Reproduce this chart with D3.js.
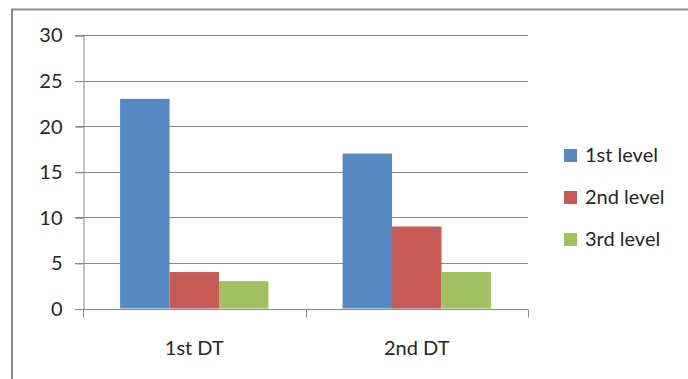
<!DOCTYPE html>
<html>
<head>
<meta charset="utf-8">
<script src="https://cdn.jsdelivr.net/npm/d3@7"></script>
<style>
  body { margin: 0; background: #fff; }
  text { font-family: Lato, "Open Sans", sans-serif; fill: #262626; }
</style>
</head>
<body>
<div id="chart"></div>
<script>
// data
var categories = ['1st DT', '2nd DT'];
var series = ['1st level', '2nd level', '3rd level'];
var level1 = [23, 17];
var level2 = [4, 9];
var level3 = [3, 4];
var yTicks = [0, 5, 10, 15, 20, 25, 30];

var colors = ['#5688C4', '#C65A57', '#A2BF62'];
var values = [level1, level2, level3];

var width = 688, height = 379;
var plot = {left: 83, right: 528, top: 35, bottom: 308.5};
var font_size_tick = 20;
var font_size_legend = 20;

var svg = d3.select('#chart')
    .append('svg')
        .attr('width', width)
        .attr('height', height);

// outer chart border
svg.append('path')
    .attr('d', 'M12,' + height + 'V9.5H' + width)
    .attr('fill', 'none')
    .attr('stroke', '#8a8a8a')
    .attr('stroke-width', 2);

// scales
var x0 = d3.scaleBand()
    .domain(categories)
    .range([plot.left, plot.right]);

var x1 = d3.scaleBand()
    .domain(series)
    .range([0, x0.bandwidth()])
    .paddingOuter(0.75);

var y = d3.scaleLinear()
    .domain([0, 30])
    .range([plot.bottom, plot.top]);

// gridlines
svg.append('g')
    .selectAll('line')
    .data(yTicks)
    .enter()
    .append('line')
        .attr('x1', plot.left - 8)
        .attr('x2', plot.right)
        .attr('y1', function(d) { return Math.round(y(d)) + 0.5; })
        .attr('y2', function(d) { return Math.round(y(d)) + 0.5; })
        .attr('stroke', '#888')
        .attr('stroke-width', 1);

// y axis
var yAxis = svg.append('g')
    .attr('transform', 'translate(' + (plot.left + 0.5) + ',0.5)')
    .call(d3.axisLeft(y).tickValues(yTicks).tickSize(8).tickPadding(13));
yAxis.select('.domain').attr('stroke', '#888');
yAxis.selectAll('line').attr('stroke', '#888');
yAxis.selectAll('text')
    .attr('font-size', font_size_tick)
    .attr('fill', '#262626')
    .attr('font-family', 'Lato');

// bars
var groups = svg.append('g')
    .selectAll('g')
    .data(categories)
    .enter()
    .append('g')
        .attr('transform', function(d) { return 'translate(' + x0(d) + ',0)'; });

groups.selectAll('rect')
    .data(function(d, i) {
        return series.map(function(s, j) { return {s: s, v: values[j][i], c: colors[j]}; });
    })
    .enter()
    .append('rect')
        .attr('x', function(d) { return x1(d.s); })
        .attr('width', x1.bandwidth())
        .attr('y', function(d) { return y(d.v); })
        .attr('height', function(d) { return y(0) - y(d.v); })
        .attr('fill', function(d) { return d.c; });

// x axis
var xAxis = svg.append('g')
    .attr('transform', 'translate(0,' + (Math.round(y(0)) + 0.5) + ')');
xAxis.append('line')
    .attr('x1', plot.left).attr('x2', plot.right)
    .attr('stroke', '#888');
xAxis.selectAll('.tick')
    .data([plot.left, plot.left + x0.step(), plot.right])
    .enter()
    .append('line')
        .attr('x1', function(d) { return Math.round(d) + 0.5; })
        .attr('x2', function(d) { return Math.round(d) + 0.5; })
        .attr('y1', 0)
        .attr('y2', 8)
        .attr('stroke', '#888');
xAxis.selectAll('text')
    .data(categories)
    .enter()
    .append('text')
        .attr('x', function(d) { return x0(d) + x0.bandwidth() / 2; })
        .attr('y', 45)
        .attr('text-anchor', 'middle')
        .attr('font-size', font_size_tick)
        .text(function(d) { return d; });

// legend
var legend = svg.selectAll('.legend')
    .data(series)
    .enter()
    .append('g')
        .attr('class', 'legend')
        .attr('transform', function(d, i) { return 'translate(564,' + (149 + i * 42) + ')'; });

legend.append('rect')
    .attr('width', 13)
    .attr('height', 13)
    .attr('fill', function(d, i) { return colors[i]; });

legend.append('text')
    .attr('x', 21)
    .attr('y', 13)
    .attr('font-size', font_size_legend)
    .text(function(d) { return d; });
</script>
</body>
</html>
